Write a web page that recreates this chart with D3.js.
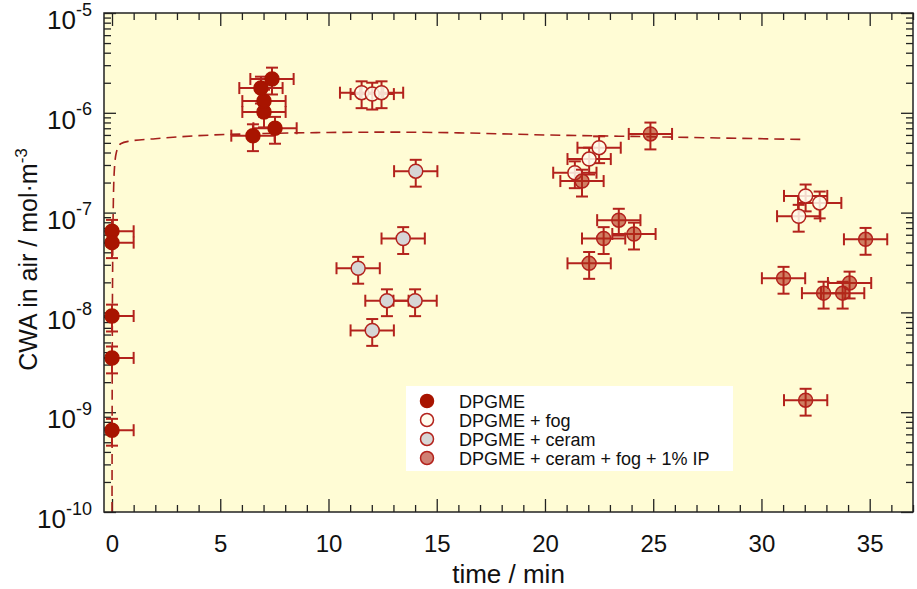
<!DOCTYPE html>
<html>
<head>
<meta charset="utf-8">
<script src="https://cdn.jsdelivr.net/npm/d3@7"></script>
<style>
  html, body { margin: 0; padding: 0; background: #ffffff; }
  svg { display: block; font-family: "Liberation Sans", Arial, Helvetica, sans-serif; }
</style>
</head>
<body>
<svg id="chart" width="917" height="589"></svg>
<script>
// ---------------- data ----------------
const xMajorTicks = [0, 5, 10, 15, 20, 25, 30, 35];
const yMajorTicks = [1e-10, 1e-9, 1e-8, 1e-7, 1e-6, 1e-5];
const yTickExponents = ["-10", "-9", "-8", "-7", "-6", "-5"];

const dpgmeTime = [0, 0, 0, 0, 0, 6.51, 7.53, 7.02, 7.02, 6.88, 7.39];
const dpgmeConc = [6.5e-8, 5.0e-8, 9.2e-9, 3.5e-9, 6.6e-10, 5.9e-7, 7.0e-7, 1.02e-6, 1.31e-6, 1.77e-6, 2.18e-6];

const fogTime = [11.53, 12.02, 12.45, 22.5, 22.04, 21.38, 32.04, 32.69, 31.72];
const fogConc = [1.59e-6, 1.54e-6, 1.59e-6, 4.47e-7, 3.44e-7, 2.51e-7, 1.47e-7, 1.25e-7, 9.2e-8];

const ceramTime = [14.03, 13.45, 11.37, 12.70, 14.0, 12.02];
const ceramConc = [2.6e-7, 5.5e-8, 2.77e-8, 1.31e-8, 1.31e-8, 6.6e-9];

const ipTime = [21.71, 24.87, 23.41, 24.11, 22.71, 22.04, 34.81, 31.02, 32.87, 33.75, 34.07, 32.04];
const ipConc = [2.07e-7, 6.14e-7, 8.4e-8, 6.1e-8, 5.5e-8, 3.1e-8, 5.4e-8, 2.2e-8, 1.56e-8, 1.56e-8, 1.97e-8, 1.32e-9];

const timeErr = 1.0;      // min
const concRelErr = 0.3;   // relative

const modelTime = [0.0, 0.01, 0.03, 0.06, 0.1, 0.2, 0.4, 0.8, 2, 4, 7, 10, 13, 16, 20, 24, 28, 32];
const modelConc = [1e-10, 3e-9, 3e-8, 1.2e-7, 2.5e-7, 4.0e-7, 4.9e-7, 5.2e-7, 5.5e-7, 5.9e-7, 6.2e-7, 6.35e-7, 6.4e-7, 6.3e-7, 6.0e-7, 5.8e-7, 5.6e-7, 5.4e-7];

const legendLabels = ["DPGME", "DPGME + fog", "DPGME + ceram", "DPGME + ceram + fog + 1% IP"];

// ---------------- layout ----------------
const W = 917, H = 589;
const margin = { left: 104, right: 4, top: 13, bottom: 77 };
const plotW = W - margin.left - margin.right;
const plotH = H - margin.top - margin.bottom;

const svg = d3.select("#chart");
const g = svg.append("g").attr("transform", `translate(${margin.left},${margin.top})`);

const x = d3.scaleLinear().domain([-0.37, 37]).range([0, plotW]);
const y = d3.scaleLog().domain([1e-10, 1e-5]).range([plotH, 0]);

const errColor = "#b3221c";
const series = [
  { t: dpgmeTime, c: dpgmeConc, fill: "#a81400", fillOpacity: 1, stroke: "#a81400" },
  { t: ceramTime, c: ceramConc, fill: "#d6d6d6", fillOpacity: 1, stroke: "#b3221c" },
  { t: fogTime, c: fogConc, fill: "#fffcec", fillOpacity: 0.85, stroke: "#b3221c" },
  { t: ipTime, c: ipConc, fill: "#b02c18", fillOpacity: 0.6, stroke: "#b3221c" }
];
const legendSeries = [series[0], series[2], series[1], series[3]];

// background
g.append("rect").attr("width", plotW).attr("height", plotH).attr("fill", "#fffcd5");

svg.append("defs").append("clipPath").attr("id", "clip")
  .append("rect").attr("width", plotW).attr("height", plotH);

// ---------------- axes ----------------
const xMinor = d3.range(0, 38, 1).filter(v => v % 5 !== 0);
const yMinor = [];
for (let e = -10; e < -5; e++) for (let m = 2; m <= 9; m++) yMinor.push(m * Math.pow(10, e));

function styleAxis(sel) {
  sel.select(".domain").remove();
  sel.selectAll(".tick line").attr("stroke", "#222").attr("stroke-width", 1.3);
}

g.append("g").attr("transform", `translate(0,${plotH})`)
  .call(d3.axisBottom(x).tickValues(xMajorTicks).tickSize(-13).tickPadding(23).tickFormat(d3.format("d")))
  .call(styleAxis)
  .call(s => s.selectAll("text").attr("font-size", 24).attr("fill", "#111")
    .attr("font-family", "Liberation Sans, Arial, sans-serif"));
g.append("g").attr("transform", `translate(0,${plotH})`)
  .call(d3.axisBottom(x).tickValues(xMinor).tickSize(-7).tickFormat(""))
  .call(styleAxis);
g.append("g")
  .call(d3.axisTop(x).tickValues(xMajorTicks).tickSize(-13).tickFormat(""))
  .call(styleAxis);
g.append("g")
  .call(d3.axisTop(x).tickValues(xMinor).tickSize(-7).tickFormat(""))
  .call(styleAxis);

const yLeft = g.append("g")
  .call(d3.axisLeft(y).tickValues(yMajorTicks).tickSize(-12).tickPadding(12).tickFormat(() => ""))
  .call(styleAxis);
yLeft.selectAll(".tick text").each(function(d, i) {
  const t = d3.select(this).attr("font-size", 26).attr("fill", "#111")
    .attr("font-family", "Liberation Sans, Arial, sans-serif").attr("dy", "0.6em");
  t.append("tspan").text("10");
  t.append("tspan").attr("font-size", 18).attr("dy", "-0.75em").text(yTickExponents[i]);
});
g.append("g")
  .call(d3.axisLeft(y).tickValues(yMinor).tickSize(-7).tickFormat(""))
  .call(styleAxis);
g.append("g").attr("transform", `translate(${plotW},0)`)
  .call(d3.axisRight(y).tickValues(yMajorTicks).tickSize(-12).tickFormat(""))
  .call(styleAxis);
g.append("g").attr("transform", `translate(${plotW},0)`)
  .call(d3.axisRight(y).tickValues(yMinor).tickSize(-7).tickFormat(""))
  .call(styleAxis);

// axis titles
svg.append("text")
  .attr("x", margin.left + plotW / 2).attr("y", 583)
  .attr("text-anchor", "middle").attr("font-size", 26).attr("fill", "#111")
  .text("time / min");

const yl = svg.append("text")
  .attr("transform", `translate(37,${margin.top + plotH / 2 - 3}) rotate(-90)`)
  .attr("text-anchor", "middle").attr("font-size", 25).attr("fill", "#111");
yl.append("tspan").text("CWA in air / mol·m");
yl.append("tspan").attr("font-size", 17).attr("dy", "-0.6em").text("-3");

// ---------------- plot content ----------------
const content = g.append("g").attr("clip-path", "url(#clip)");

// model curve
const line = d3.line().x((d, i) => x(modelTime[i])).y((d, i) => y(modelConc[i])).curve(d3.curveMonotoneX);
content.append("path").datum(modelConc)
  .attr("d", line).attr("fill", "none")
  .attr("stroke", "#a5201c").attr("stroke-width", 1.6).attr("stroke-dasharray", "10,6");

const cap = 6;
series.forEach(s => {
  const pts = s.t.map((t, i) => ({ t, c: s.c[i] }));
  const eb = content.append("g").attr("stroke", errColor).attr("stroke-width", 2).attr("fill", "none");
  pts.forEach(p => {
    const px = x(p.t), py = y(p.c);
    const x0 = x(p.t - timeErr), x1 = x(p.t + timeErr);
    const y0 = y(p.c * (1 + concRelErr)), y1 = y(p.c * (1 - concRelErr));
    eb.append("line").attr("x1", x0).attr("x2", x1).attr("y1", py).attr("y2", py);
    eb.append("line").attr("x1", x0).attr("x2", x0).attr("y1", py - cap).attr("y2", py + cap);
    eb.append("line").attr("x1", x1).attr("x2", x1).attr("y1", py - cap).attr("y2", py + cap);
    eb.append("line").attr("x1", px).attr("x2", px).attr("y1", y0).attr("y2", y1);
    eb.append("line").attr("x1", px - cap).attr("x2", px + cap).attr("y1", y0).attr("y2", y0);
    eb.append("line").attr("x1", px - cap).attr("x2", px + cap).attr("y1", y1).attr("y2", y1);
  });
  content.append("g").selectAll("circle").data(pts).join("circle")
    .attr("cx", d => x(d.t)).attr("cy", d => y(d.c)).attr("r", 7)
    .attr("fill", s.fill).attr("fill-opacity", s.fillOpacity)
    .attr("stroke", s.stroke).attr("stroke-width", 1.5);
});

// frame
g.append("rect").attr("width", plotW).attr("height", plotH)
  .attr("fill", "none").attr("stroke", "#222").attr("stroke-width", 1.5);

// ---------------- legend ----------------
const lg = svg.append("g").attr("transform", "translate(406,386)");
lg.append("rect").attr("width", 327).attr("height", 85).attr("fill", "#ffffff");
legendLabels.forEach((lab, i) => {
  const s = legendSeries[i];
  const cy = 15 + i * 19;
  lg.append("circle").attr("cx", 21).attr("cy", cy).attr("r", 6.5)
    .attr("fill", s.fill).attr("fill-opacity", s.fillOpacity)
    .attr("stroke", s.stroke).attr("stroke-width", 1.5);
  lg.append("text").attr("x", 53).attr("y", cy + 7).attr("font-size", 18).attr("fill", "#111").text(lab);
});
</script>
</body>
</html>
